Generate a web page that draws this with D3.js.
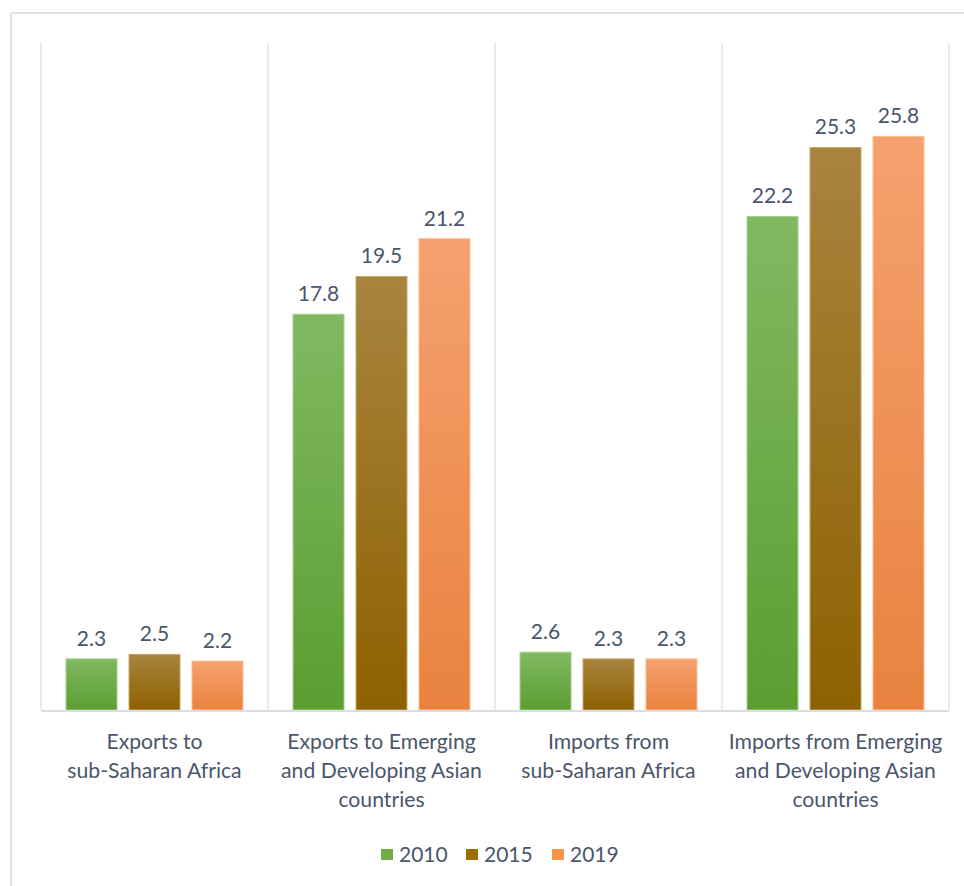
<!DOCTYPE html>
<html>
<head>
<meta charset="utf-8">
<script src="https://cdn.jsdelivr.net/npm/d3@7"></script>
<style>
  html, body { margin: 0; padding: 0; background: #ffffff; }
  svg { display: block; }
  text { font-family: Lato, "Open Sans", sans-serif; fill: #4a566b; }
</style>
</head>
<body>
<svg id="chart" width="964" height="886"></svg>
<script>
// Trade shares by partner region, three reference years
const categories = [
  ["Exports to", "sub-Saharan Africa"],
  ["Exports to Emerging", "and Developing Asian", "countries"],
  ["Imports from", "sub-Saharan Africa"],
  ["Imports from Emerging", "and Developing Asian", "countries"]
];
const years = ["2010", "2015", "2019"];
const values2010 = [2.3, 17.8, 2.6, 22.2];
const values2015 = [2.5, 19.5, 2.3, 25.3];
const values2019 = [2.2, 21.2, 2.3, 25.8];
const yDomain = [0, 30];

const seriesValues = [values2010, values2015, values2019];
const colors = {
  "2010": { top: "#80b962", bottom: "#5c9d31", solid: "#70ad47", edge: "#a9d18e" },
  "2015": { top: "#a8843f", bottom: "#8e6100", solid: "#9e7000", edge: "#c9a96a" },
  "2019": { top: "#f5a16f", bottom: "#e9823f", solid: "#f79646", edge: "#fac090" }
};

const svg = d3.select("#chart");

// outer frame
svg.append("rect")
  .attr("x", 11).attr("y", 13)
  .attr("width", 980).attr("height", 900)
  .attr("rx", 2)
  .attr("fill", "none")
  .attr("stroke", "#dde1e8")
  .attr("stroke-width", 2);

const plot = { left: 41, right: 949, top: 43, bottom: 710 };

const x0 = d3.scaleBand()
  .domain(d3.range(categories.length))
  .range([plot.left, plot.right])
  .padding(0);

const x1 = d3.scaleBand()
  .domain(years)
  .range([0, x0.bandwidth()])
  .paddingInner(0.19)
  .paddingOuter(0.397);

const y = d3.scaleLinear().domain(yDomain).range([plot.bottom, plot.top]);

// gradients for the bars
const defs = svg.append("defs");
years.forEach(yr => {
  const g = defs.append("linearGradient")
    .attr("id", "grad" + yr)
    .attr("x1", 0).attr("y1", 0).attr("x2", 0).attr("y2", 1);
  g.append("stop").attr("offset", "0%").attr("stop-color", colors[yr].top);
  g.append("stop").attr("offset", "100%").attr("stop-color", colors[yr].bottom);
});

// vertical separators between categories
const seps = d3.range(categories.length + 1).map(i =>
  i < categories.length ? x0(i) : x0(categories.length - 1) + x0.bandwidth());
svg.append("g").selectAll("line")
  .data(seps)
  .join("line")
  .attr("x1", d => d).attr("x2", d => d)
  .attr("y1", plot.top).attr("y2", plot.bottom)
  .attr("stroke", "#dfe3e9")
  .attr("stroke-width", 1.5);

// bars
const rows = [];
categories.forEach((c, i) => {
  years.forEach((yr, j) => rows.push({ cat: i, year: yr, value: seriesValues[j][i] }));
});

const barG = svg.append("g");
barG.selectAll("rect")
  .data(rows)
  .join("rect")
  .attr("x", d => x0(d.cat) + x1(d.year))
  .attr("y", d => y(d.value))
  .attr("width", x1.bandwidth())
  .attr("height", d => y(0) - y(d.value))
  .attr("fill", d => "url(#grad" + d.year + ")")
  .attr("stroke", d => colors[d.year].edge)
  .attr("stroke-width", 1);

// value labels
svg.append("g").selectAll("text")
  .data(rows)
  .join("text")
  .attr("x", d => x0(d.cat) + x1(d.year) + x1.bandwidth() / 2)
  .attr("y", d => y(d.value) - 13)
  .attr("text-anchor", "middle")
  .style("font-size", "21px")
  .text(d => d.value.toFixed(1));

// baseline
svg.append("line")
  .attr("x1", plot.left).attr("x2", plot.right)
  .attr("y1", y(0) + 1).attr("y2", y(0) + 1)
  .attr("stroke", "#d9dde4")
  .attr("stroke-width", 2);

// category labels
const catG = svg.append("g");
categories.forEach((lines, i) => {
  const t = catG.append("text")
    .attr("x", x0(i) + x0.bandwidth() / 2)
    .attr("y", 749)
    .attr("text-anchor", "middle")
    .style("font-size", "21.2px");
  lines.forEach((ln, k) => {
    t.append("tspan")
      .attr("x", x0(i) + x0.bandwidth() / 2)
      .attr("dy", k === 0 ? 0 : 29)
      .text(ln);
  });
});

// legend
const legendX = [381, 466, 552];
const legend = svg.append("g");
years.forEach((yr, j) => {
  legend.append("rect")
    .attr("x", legendX[j]).attr("y", 849)
    .attr("width", 12).attr("height", 11)
    .attr("fill", colors[yr].solid);
  legend.append("text")
    .attr("x", legendX[j] + 18).attr("y", 862)
    .style("font-size", "21px")
    .text(yr);
});
</script>
</body>
</html>
